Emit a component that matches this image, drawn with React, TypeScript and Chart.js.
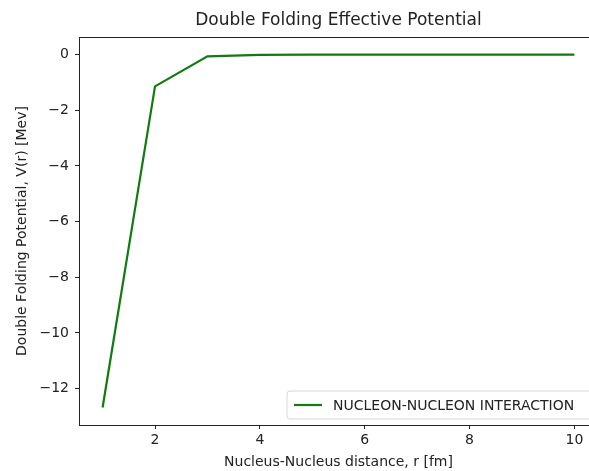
import React, { useEffect, useRef } from "react";
import { Chart, registerables } from "chart.js";

Chart.register(...registerables);

const distances = [1, 2, 3, 4, 5, 6, 7, 8, 9, 10];
const potential = [-12.68, -1.14, -0.06, -0.01, 0, 0, 0, 0, 0, 0];
const xTicks = [2, 4, 6, 8, 10];
const yTicks = [-12, -10, -8, -6, -4, -2, 0];
const titleText = "Double Folding Effective Potential";
const xLabel = "Nucleus-Nucleus distance, r [fm]";
const yLabel = "Double Folding Potential, V(r) [Mev]";
const seriesLabel = "NUCLEON-NUCLEON INTERACTION";

const FONT = "'DejaVu Sans', sans-serif";
const LINE_COLOR = "#117a11";
const TEXT_COLOR = "#222222";
const CANVAS_W = 589;
const CANVAS_H = 471;
// x range: 0.55 .. 10.45 in the full figure; the right part is cropped at the image edge
const X_MIN = 0.55;
const X_MAX_FULL = 10.45;
const FULL_RIGHT = 598;
const PLOT_LEFT = 79;
const X_MAX_VISIBLE = X_MIN + ((X_MAX_FULL - X_MIN) * (CANVAS_W - PLOT_LEFT)) / (FULL_RIGHT - PLOT_LEFT);

const decorPlugin = {
  id: "decor",
  afterDraw(chart: any) {
    const ctx = chart.ctx as CanvasRenderingContext2D;
    const a = chart.chartArea;
    ctx.save();
    ctx.strokeStyle = "#222";
    ctx.lineWidth = 1;
    ctx.beginPath();
    ctx.moveTo(a.left, a.top + 0.5);
    ctx.lineTo(CANVAS_W, a.top + 0.5);
    ctx.stroke();

    const cx = (PLOT_LEFT + FULL_RIGHT) / 2;
    ctx.fillStyle = TEXT_COLOR;
    ctx.font = `17px ${FONT}`;
    ctx.textAlign = "center";
    ctx.textBaseline = "middle";
    ctx.fillText(titleText, cx, 21);
    ctx.font = `14px ${FONT}`;
    ctx.fillText(xLabel, cx, 462);
    ctx.save();
    ctx.translate(22, (a.top + a.bottom) / 2);
    ctx.rotate(-Math.PI / 2);
    ctx.fillText(yLabel, 0, 0);
    ctx.restore();

    // legend
    const lx = 287, ly = 391, lw = 306, lh = 28, r = 3;
    ctx.beginPath();
    ctx.moveTo(lx + r, ly);
    ctx.lineTo(lx + lw - r, ly);
    ctx.arcTo(lx + lw, ly, lx + lw, ly + r, r);
    ctx.lineTo(lx + lw, ly + lh - r);
    ctx.arcTo(lx + lw, ly + lh, lx + lw - r, ly + lh, r);
    ctx.lineTo(lx + r, ly + lh);
    ctx.arcTo(lx, ly + lh, lx, ly + lh - r, r);
    ctx.lineTo(lx, ly + r);
    ctx.arcTo(lx, ly, lx + r, ly, r);
    ctx.closePath();
    ctx.fillStyle = "rgba(255,255,255,0.8)";
    ctx.fill();
    ctx.strokeStyle = "#d6d6d6";
    ctx.stroke();
    ctx.strokeStyle = LINE_COLOR;
    ctx.lineWidth = 2.2;
    ctx.beginPath();
    ctx.moveTo(294, ly + lh / 2);
    ctx.lineTo(322, ly + lh / 2);
    ctx.stroke();
    ctx.fillStyle = TEXT_COLOR;
    ctx.font = `14px ${FONT}`;
    ctx.textAlign = "left";
    ctx.textBaseline = "middle";
    ctx.fillText(seriesLabel, 333, ly + lh / 2 + 1);
    ctx.restore();
  },
};

const fmt = (v: number) => (v < 0 ? "\u2212" + Math.abs(v) : String(v));

export default function App() {
  const ref = useRef<HTMLCanvasElement>(null);
  useEffect(() => {
    if (!ref.current) return;
    const chart = new Chart(ref.current, {
      type: "line",
      data: {
        datasets: [
          {
            label: seriesLabel,
            data: distances.map((x, i) => ({ x, y: potential[i] })),
            borderColor: LINE_COLOR,
            borderWidth: 2.2,
            pointRadius: 0,
            fill: false,
            tension: 0,
          },
        ],
      },
      options: {
        animation: false,
        responsive: false,
        devicePixelRatio: 1,
        layout: { padding: { left: 0, top: 37, right: 0, bottom: 0 } },
        plugins: { legend: { display: false }, title: { display: false }, tooltip: { enabled: false } },
        scales: {
          x: {
            type: "linear",
            min: X_MIN,
            max: X_MAX_VISIBLE,
            afterBuildTicks: (s: any) => {
              s.ticks = xTicks.map((v) => ({ value: v }));
            },
            afterFit: (s: any) => {
              s.height = CANVAS_H - 425;
            },
            grid: { drawOnChartArea: false, drawTicks: true, tickLength: 4, color: "#222" },
            border: { display: true, color: "#222", width: 1 },
            ticks: {
              padding: 3,
              color: TEXT_COLOR,
              font: { family: FONT, size: 14 },
              maxRotation: 0,
              autoSkip: false,
              callback: (v: any) => fmt(Number(v)),
            },
          },
          y: {
            type: "linear",
            min: -13.31,
            max: 0.634,
            afterBuildTicks: (s: any) => {
              s.ticks = yTicks.map((v) => ({ value: v }));
            },
            afterFit: (s: any) => {
              s.width = PLOT_LEFT;
            },
            grid: { drawOnChartArea: false, drawTicks: true, tickLength: 4, color: "#222" },
            border: { display: true, color: "#222", width: 1 },
            ticks: {
              padding: 6,
              color: TEXT_COLOR,
              font: { family: FONT, size: 14 },
              autoSkip: false,
              callback: (v: any) => fmt(Number(v)),
            },
          },
        },
      },
      plugins: [decorPlugin],
    });
    return () => chart.destroy();
  }, []);
  return (
    <div
      style={{
        position: "absolute",
        left: 0,
        top: 0,
        width: CANVAS_W,
        height: CANVAS_H,
        overflow: "hidden",
        background: "#fff",
      }}
    >
      <canvas ref={ref} width={CANVAS_W} height={CANVAS_H} style={{ display: "block", width: CANVAS_W, height: CANVAS_H }} />
    </div>
  );
}
